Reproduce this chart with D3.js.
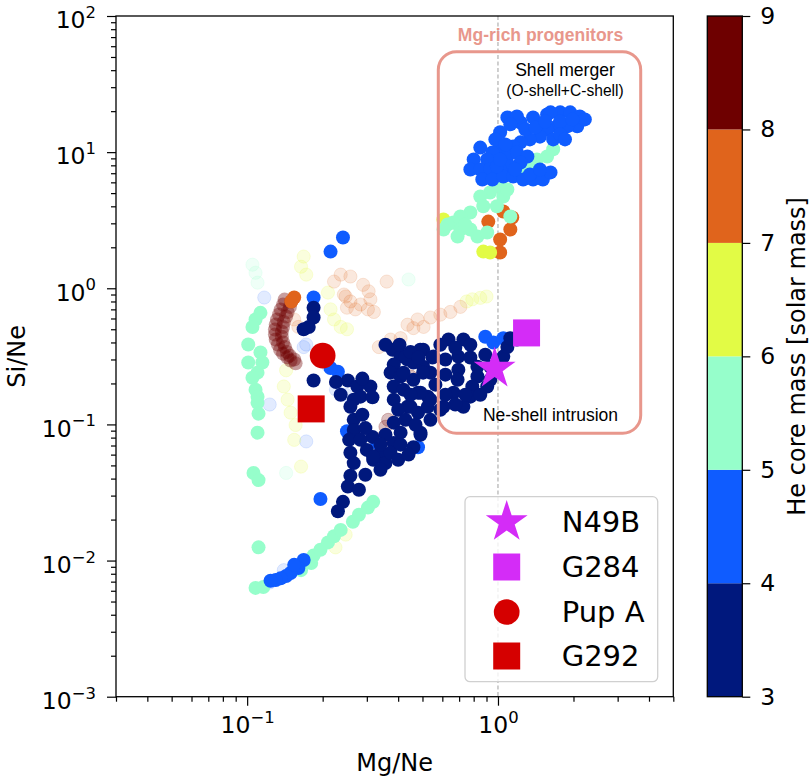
<!DOCTYPE html>
<html>
<head>
<meta charset="utf-8">
<script src="https://cdn.jsdelivr.net/npm/d3@7"></script>
<style>
  body { margin: 0; background: #fff; }
  svg { display: block; }
</style>
</head>
<body>
<div id="chart-container"></div>
<script>
// --- data (Mg/Ne, Si/Ne) ---

// colour bins of the He core mass bar
const massBins = [3, 4, 5, 6, 7, 8, 9];
const binColors = ["#00187d", "#0f5cff", "#96fecb", "#e2fb45", "#e0641c", "#6e0000"];

// log tick values
const xMajorTicks = [0.1, 1];
const yMajorTicks = [1e-3, 1e-2, 1e-1, 1, 10, 100];

// models, 3-4 Msun (opaque)
const navyPts = [
  [0.184,0.72],[0.184,0.61],[0.176,0.52],[0.168,0.50],[0.184,0.21],
  [0.252,0.21],[0.275,0.19],[0.31,0.19],[0.283,0.16],[0.316,0.158],[0.266,0.152],[0.258,0.135],
  [0.266,0.108],[0.266,0.091],[0.255,0.077],[0.258,0.062],[0.266,0.052],[0.258,0.042],[0.252,0.035],
  [0.241,0.027],[0.23,0.023],[0.316,0.081],[0.30,0.065],[0.34,0.062],[0.356,0.052],[0.318,0.055],
  [0.38,0.354],[0.409,0.315],[0.436,0.30],[0.384,0.275],[0.373,0.24],[0.409,0.225],[0.46,0.285],
  [0.503,0.354],[0.503,0.265],[0.553,0.315],[0.538,0.24],[0.46,0.213],[0.384,0.19],[0.42,0.18],
  [0.48,0.171],[0.525,0.16],[0.384,0.152],[0.436,0.135],[0.40,0.128],[0.48,0.122],[0.525,0.135],
  [0.384,0.103],[0.409,0.087],[0.384,0.073],[0.46,0.068],[0.491,0.084],[0.373,0.062],[0.318,0.058],
  [0.635,0.42],[0.728,0.42],[0.428,0.315],[0.548,0.31],[0.617,0.30],[0.695,0.315],[0.776,0.31],
  [0.828,0.265],[0.932,0.265],[1.05,0.315],[1.09,0.37],[1.19,0.42],[1.12,0.43],
  [0.695,0.252],[0.69,0.213],[0.828,0.225],[0.79,0.19],[0.906,0.19],[0.776,0.16],[0.728,0.135],
  [0.665,0.171],[0.606,0.135],[0.538,0.152],[0.491,0.171],[0.503,0.24],[0.42,0.24],[0.448,0.135],
  [0.49,0.354],[0.491,0.087],
  [0.356,0.385],[0.405,0.385],[0.448,0.34],[0.482,0.31],[0.589,0.385],[0.676,0.365],[0.776,0.385],
  [0.89,0.325],[0.617,0.232],[0.563,0.196],[0.617,0.165],[0.676,0.14],[0.741,0.165],[0.85,0.165],
  [0.932,0.213],[0.448,0.165],[0.428,0.108],[0.469,0.0995],[0.538,0.108],[0.589,0.128],[0.409,0.071],
  [0.356,0.084],[0.34,0.071],[0.40,0.055],[0.44,0.06],[0.288,0.118],[0.296,0.094],[0.283,0.077],
  [0.34,0.0464],[0.296,0.0427],[0.279,0.0331],[0.226,0.205],[0.236,0.165],[0.288,0.217]
];

// models, 4-5 Msun (opaque)
const bluePts = [
  [1.09,18.0],[1.23,16.5],[1.38,18.0],[1.57,18.9],[1.77,19.6],[1.94,19.6],[2.12,18.3],[2.07,15.5],
  [1.89,15.5],[1.72,15.5],[1.57,14.7],[1.66,12.4],[1.47,13.0],[1.34,12.4],[1.23,11.8],[1.15,11.0],
  [1.02,14.0],[1.02,11.0],[1.09,9.3],[1.19,9.95],[1.31,9.3],[1.23,8.4],[1.12,7.85],[1.02,7.46],
  [0.95,9.95],[0.85,10.8],[0.906,8.84],[0.80,8.84],[0.776,7.46],[0.85,7.46],[0.93,7.46],[0.866,6.3],
  [0.95,6.3],[1.05,6.63],[1.15,6.63],[1.26,6.3],[1.38,6.3],[1.51,6.3],[1.62,7.1],[0.99,7.85],
  [1.19,18.3],[1.62,19.6],[2.22,17.4],
  [0.976,12.4],[1.07,11.4],[1.285,14.7],[1.41,15.2],[1.54,16.8],[1.77,16.8],[1.98,17.4],[1.12,16.0],
  [1.02,8.84],[1.17,7.46],[1.34,6.86],[1.47,7.46],[1.77,13.5],[1.85,12.4],
  [0.184,0.855],[0.215,1.86],[0.241,2.36],[0.23,0.244],[0.215,0.26],[0.196,0.0283],
  [0.168,0.0101],[0.16,0.0088],[0.149,0.0081],[0.143,0.0077],[0.136,0.0074],[0.130,0.0072],
  [0.124,0.0071],[0.154,0.0093],[0.89,0.44],[0.958,0.40],[1.05,0.43],
  [0.25,0.089],[0.33,0.073],[0.48,0.068]
];

// models, 5-6 Msun (opaque)
const aquaPts = [
  [1.66,10.5],[1.57,9.3],[1.43,8.84],[1.34,7.85],[1.23,7.46],[1.02,5.6],[0.93,5.05],[0.85,4.72],
  [1.05,4.72],[0.874,4.0],[0.776,3.6],[0.708,3.37],[0.664,3.04],[0.708,2.7],[0.776,2.7],[0.828,2.4],
  [0.69,2.4],[0.906,2.57],[1.12,3.37],[0.99,4.0],[1.09,5.32],[0.63,2.94],[0.607,2.7],[0.74,2.94],
  [0.113,0.66],[0.108,0.59],[0.105,0.52],[0.101,0.386],[0.101,0.285],[0.113,0.338],[0.115,0.285],
  [0.11,0.24],[0.105,0.22],[0.108,0.18],[0.11,0.16],[0.11,0.144],[0.111,0.12],[0.11,0.087],
  [0.106,0.044],[0.111,0.039],[0.111,0.0125],[0.108,0.0063],[0.116,0.0064],
  [0.18,0.0096],[0.184,0.0109],[0.196,0.0120],[0.21,0.0136],[0.222,0.0151],[0.236,0.0168],
  [0.264,0.0193],[0.279,0.0217],[0.303,0.0245],[0.318,0.0270],[0.164,0.0085]
];

// models, 6-7 Msun (opaque)
const yellowPts = [[0.606,3.2],[0.874,1.86],[0.93,1.83]];

// models, 7-8 Msun (opaque)
const orangePts = [
  [0.154,0.855],[0.150,0.80],
  [1.05,3.66],[1.14,3.31],[1.12,2.7],[0.915,3.09],[1.02,2.28],[1.02,1.83]
];

// models, 8-9 Msun (smoky, heavily overlapping track)
const darkRedPts = [
  [0.141,0.826],[0.139,0.759],[0.136,0.697],[0.134,0.641],[0.1315,0.589],[0.130,0.541],[0.129,0.497],
  [0.129,0.457],[0.130,0.420],[0.1327,0.386],[0.1353,0.354],[0.139,0.331],[0.1445,0.311],[0.149,0.295],
  [0.156,0.281],
  [0.150,0.80],[0.148,0.73],[0.145,0.67],[0.143,0.62],[0.140,0.565],[0.139,0.52],[0.1375,0.48],
  [0.1375,0.44],[0.139,0.40],[0.1415,0.37],[0.144,0.34],[0.148,0.32],[0.154,0.30]
];

// faded tracks
const fadedDarkRedPts = [[0.448,0.225],[0.365,0.108],[0.35,0.081],[0.356,0.096]];
const fadedOrangePts = [
  [0.236,1.26],[0.222,1.12],[0.247,0.87],[0.25,0.72],[0.258,1.22],[0.29,1.06],[0.243,0.9],[0.258,0.8],
  [0.283,0.76],[0.31,0.83],[0.305,0.95],[0.303,0.70],[0.32,0.67],[0.27,0.70],[0.36,1.12],[0.16,0.52],
  [0.154,0.59],[0.335,0.37],[0.373,0.42],[0.409,0.43],[0.40,0.37],[0.436,0.54],[0.46,0.51],
  [0.478,0.59],[0.505,0.52],[0.538,0.61],[0.589,0.64],[0.646,0.67],[0.708,0.73]
];
const fadedYellowPts = [
  [0.75,0.80],[0.79,0.83],[0.85,0.85],[0.90,0.87],
  [0.168,1.71],[0.164,1.44],[0.172,1.26],[0.21,0.93],[0.215,0.70],[0.222,0.59],[0.236,0.52],[0.25,0.50],
  [0.14,0.19],[0.145,0.152],[0.149,0.122],[0.156,0.099],[0.154,0.077],[0.164,0.049],[0.143,0.25],
  [0.225,0.0125],[0.247,0.0155]
];
const fadedAquaPts = [[0.108,1.30],[0.11,1.10],[0.105,1.49],[0.44,1.16],[0.143,0.044]];
const fadedBluePts = [
  [0.117,0.855],[0.172,0.386],[0.168,0.37],[0.123,0.14],[0.172,0.075],[0.123,0.0069],[0.14,0.0085],
  [0.226,0.18],[0.247,0.165],[0.21,0.27]
];

// observed remnants
const obsNames = ["N49B", "G284", "Pup A", "G292"];
const obsMg = [0.97, 1.30, 0.20, 0.18];
const obsSi = [0.257, 0.47, 0.32, 0.13];

// --- drawing ---
const width = 810, height = 780;
const plot = { left: 116, right: 673.3, top: 16, bottom: 696.7 };
const bar = { left: 707.3, right: 742.3 };
const tickFont = "DejaVu Sans, sans-serif";
const noteFont = "Liberation Sans, Arial, sans-serif";

const x = d3.scaleLog().domain([0.03, 5]).range([plot.left, plot.right]);
const y = d3.scaleLog().domain([1e-3, 1e2]).range([plot.bottom, plot.top]);
const massColor = d3.scaleThreshold().domain(massBins.slice(1, -1)).range(binColors);
const cbar = d3.scaleLinear().domain([3, 9]).range([plot.bottom, plot.top]);

const svg = d3.select("#chart-container").append("svg")
  .attr("width", width)
  .attr("height", height);

svg.append("defs").append("clipPath").attr("id", "plot-clip")
  .append("rect")
  .attr("x", plot.left).attr("y", plot.top)
  .attr("width", plot.right - plot.left).attr("height", plot.bottom - plot.top);

// series in drawing order (mass = bin centre, alpha as in the figure)
const series = [
  { pts: fadedBluePts, mass: 4.5, alpha: 0.12, ring: true },
  { pts: fadedAquaPts, mass: 5.5, alpha: 0.15, ring: true },
  { pts: fadedYellowPts, mass: 6.5, alpha: 0.18, ring: true },
  { pts: fadedOrangePts, mass: 7.5, alpha: 0.15, ring: true },
  { pts: fadedDarkRedPts, mass: 8.5, alpha: 0.25, ring: true },
  { pts: darkRedPts, mass: 8.5, alpha: 0.38, ring: false },
  { pts: orangePts, mass: 7.5, alpha: 1, ring: false },
  { pts: yellowPts, mass: 6.5, alpha: 1, ring: false },
  { pts: aquaPts, mass: 5.5, alpha: 1, ring: false },
  { pts: bluePts, mass: 4.5, alpha: 1, ring: false },
  { pts: navyPts, mass: 3.5, alpha: 1, ring: false }
];

const dots = svg.append("g").attr("clip-path", "url(#plot-clip)");

// dashed line at Mg/Ne = 1
dots.append("line")
  .attr("x1", x(1)).attr("x2", x(1))
  .attr("y1", plot.top).attr("y2", plot.bottom)
  .attr("stroke", "#a0a0a0")
  .attr("stroke-width", 1)
  .attr("stroke-dasharray", "4,2.5");

series.forEach(s => {
  dots.append("g")
    .selectAll("circle")
    .data(s.pts)
    .join("circle")
    .attr("cx", d => x(d[0]))
    .attr("cy", d => y(d[1]))
    .attr("r", s.ring ? 6.6 : 7)
    .attr("fill", massColor(s.mass))
    .attr("fill-opacity", s.alpha)
    .attr("stroke", s.ring ? massColor(s.mass) : "none")
    .attr("stroke-opacity", s.alpha)
    .attr("stroke-width", 1);
});

// Mg-rich box and notes
svg.append("rect")
  .attr("x", 438.3).attr("y", 51.7)
  .attr("width", 202.4).attr("height", 381.6)
  .attr("rx", 18).attr("ry", 18)
  .attr("fill", "none")
  .attr("stroke", "#e8978c")
  .attr("stroke-width", 3);

svg.append("text")
  .attr("x", 540.5).attr("y", 40.5)
  .attr("text-anchor", "middle")
  .attr("font-family", noteFont)
  .attr("font-weight", "bold")
  .attr("font-size", 17.5)
  .attr("fill", "#e8978c")
  .text("Mg-rich progenitors");

svg.append("text")
  .attr("x", 565).attr("y", 76)
  .attr("text-anchor", "middle")
  .attr("font-family", noteFont)
  .attr("font-size", 17.6)
  .text("Shell merger");

svg.append("text")
  .attr("x", 565).attr("y", 96)
  .attr("text-anchor", "middle")
  .attr("font-family", noteFont)
  .attr("font-size", 15.6)
  .text("(O-shell+C-shell)");

svg.append("text")
  .attr("x", 550.5).attr("y", 420.5)
  .attr("text-anchor", "middle")
  .attr("font-family", noteFont)
  .attr("font-size", 17.5)
  .text("Ne-shell intrusion");

// observed markers
const obsStyle = {
  "N49B": { type: d3.symbolStar, size: 543, color: "#d42cf7" },
  "G284": { type: d3.symbolSquare, size: 729, color: "#d42cf7" },
  "Pup A": { type: d3.symbolCircle, size: 520, color: "#d50000" },
  "G292": { type: d3.symbolSquare, size: 729, color: "#d50000" }
};

const obs = obsNames.map((n, i) => ({ name: n, mg: obsMg[i], si: obsSi[i] }));

svg.append("g")
  .selectAll("path")
  .data(obs)
  .join("path")
  .attr("transform", d => `translate(${x(d.mg)},${y(d.si)})`)
  .attr("d", d => d3.symbol().type(obsStyle[d.name].type).size(obsStyle[d.name].size)())
  .attr("fill", d => obsStyle[d.name].color);

// legend
const legend = svg.append("g");
legend.append("rect")
  .attr("x", 465).attr("y", 496.7)
  .attr("width", 192.7).attr("height", 185)
  .attr("rx", 5).attr("ry", 5)
  .attr("fill", "#fff").attr("fill-opacity", 0.8)
  .attr("stroke", "#d0d0d0").attr("stroke-width", 1.3);

const legendRows = [522, 567, 612, 656];
obs.forEach((d, i) => {
  const st = obsStyle[d.name];
  legend.append("path")
    .attr("transform", `translate(506.7,${legendRows[i]})`)
    .attr("d", d3.symbol().type(st.type).size(st.size)())
    .attr("fill", st.color);
  legend.append("text")
    .attr("x", 561.7).attr("y", legendRows[i])
    .attr("dy", "0.36em")
    .attr("font-family", tickFont)
    .attr("font-size", 29)
    .text(d.name);
});

// axes
function powerLabels(sel, dy) {
  sel.each(function (d) {
    const e = Math.round(Math.log10(d));
    const t = d3.select(this).text(null).attr("dy", dy);
    t.append("tspan").text("10");
    t.append("tspan")
      .attr("dy", "-0.62em")
      .attr("font-size", "0.7em")
      .text(e < 0 ? "\u2212" + (-e) : String(e));
  });
}

const minorX = x.ticks().filter(v => !xMajorTicks.some(m => Math.abs(m - v) < 1e-9));
const minorY = y.ticks().filter(v => !yMajorTicks.some(m => Math.abs(m - v) / m < 1e-6));

// d3 sets its own font on the axis group, so override it after the call
function styleAxis(g) {
  g.attr("font-family", tickFont).attr("font-size", 23.5);
  g.select(".domain").remove();
  g.selectAll(".tick line").attr("stroke", "#000").attr("stroke-width", 1.2);
  g.selectAll(".tick text").attr("fill", "#000");
}

svg.append("g")
  .attr("transform", `translate(0,${plot.bottom})`)
  .call(d3.axisBottom(x).tickValues(minorX).tickSize(5).tickFormat(""))
  .call(styleAxis);

svg.append("g")
  .attr("transform", `translate(0,${plot.bottom})`)
  .call(d3.axisBottom(x).tickValues(xMajorTicks).tickSize(9).tickPadding(11))
  .call(styleAxis)
  .call(g => g.selectAll(".tick text").call(powerLabels, "0.71em"));

svg.append("g")
  .attr("transform", `translate(${plot.left},0)`)
  .call(d3.axisLeft(y).tickValues(minorY).tickSize(5).tickFormat(""))
  .call(styleAxis);

svg.append("g")
  .attr("transform", `translate(${plot.left},0)`)
  .call(d3.axisLeft(y).tickValues(yMajorTicks).tickSize(9).tickPadding(11))
  .call(styleAxis)
  .call(g => g.selectAll(".tick text").call(powerLabels, "0.5em"));

// plot frame
svg.append("rect")
  .attr("x", plot.left).attr("y", plot.top)
  .attr("width", plot.right - plot.left).attr("height", plot.bottom - plot.top)
  .attr("fill", "none").attr("stroke", "#000").attr("stroke-width", 1.3);

svg.append("text")
  .attr("x", (plot.left + plot.right) / 2).attr("y", 771)
  .attr("text-anchor", "middle")
  .attr("font-family", tickFont)
  .attr("font-size", 24)
  .text("Mg/Ne");

svg.append("text")
  .attr("transform", `translate(25,${(plot.top + plot.bottom) / 2}) rotate(-90)`)
  .attr("text-anchor", "middle")
  .attr("font-family", tickFont)
  .attr("font-size", 24)
  .text("Si/Ne");

// colour bar
const bins = d3.pairs(massBins);
svg.append("g")
  .selectAll("rect")
  .data(bins)
  .join("rect")
  .attr("x", bar.left)
  .attr("width", bar.right - bar.left)
  .attr("y", d => cbar(d[1]))
  .attr("height", d => cbar(d[0]) - cbar(d[1]))
  .attr("fill", d => massColor((d[0] + d[1]) / 2));

svg.append("rect")
  .attr("x", bar.left).attr("y", plot.top)
  .attr("width", bar.right - bar.left).attr("height", plot.bottom - plot.top)
  .attr("fill", "none").attr("stroke", "#000").attr("stroke-width", 1.3);

svg.append("g")
  .attr("transform", `translate(${bar.right},0)`)
  .call(d3.axisRight(cbar).tickValues(massBins).tickSize(8).tickPadding(10).tickFormat(d3.format("d")))
  .call(styleAxis);

svg.append("text")
  .attr("transform", `translate(805,${(plot.top + plot.bottom) / 2}) rotate(-90)`)
  .attr("text-anchor", "middle")
  .attr("font-family", tickFont)
  .attr("font-size", 24)
  .text("He core mass [solar mass]");
</script>
</body>
</html>
